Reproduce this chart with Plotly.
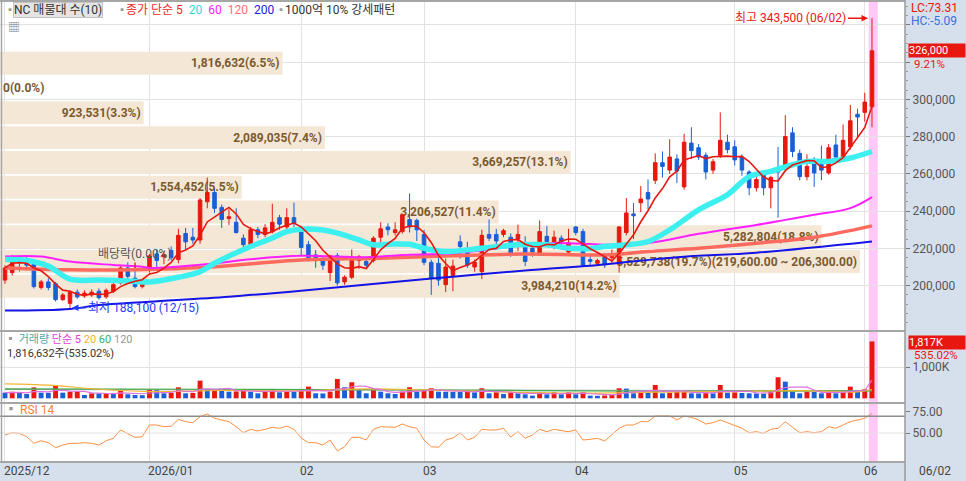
import plotly.graph_objects as go
import pandas as pd

# ---- data -------------------------------------------------------------
holidays = ["2025-12-25", "2025-12-31", "2026-01-01", "2026-02-16", "2026-02-17",
            "2026-02-18", "2026-03-02", "2026-05-01", "2026-05-05", "2026-05-25"]
dates = [d.strftime("%Y-%m-%d") for d in pd.bdate_range("2025-12-02", "2026-06-02")
         if d.strftime("%Y-%m-%d") not in holidays]

opens = [203000, 207000, 214500, 214000, 212000, 199000, 202000, 201000, 192500, 190500,
         196500, 194500, 195000, 197000, 194000, 197000, 201500, 209500, 204000, 199500,
         208500, 217000, 215500, 219000, 214000, 228000, 226000, 224500, 245000, 250000,
         242000, 236000, 234000, 225500, 222000, 230000, 227500, 229000, 236500, 231500, 236500,
         230000, 222000, 216500, 213500, 207000, 216000, 202000, 204500, 213500, 213000,
         213500, 226000, 231500, 228500, 229000, 235500, 235000,
         227500, 212500, 212000, 200500, 205500, 223500, 219000, 210000, 207500, 227500,
         227500, 227500, 226000, 225000, 221000, 220000, 217500, 226500, 220500, 225500, 218000,
         231500, 229000, 214000, 212000, 215500, 215000, 212000, 228500, 238500, 244500,
         250000, 256500, 266000, 262000, 268000, 253000, 276500, 274000, 270000, 262000, 270000, 277000,
         274500, 269000, 261000, 252500, 259500, 252500, 263000, 264000, 282000, 271000,
         258500, 267500, 265000, 260500, 275500, 269000, 274500, 292000,
         293000, 296000]
highs = [211000, 216500, 215800, 216000, 213500, 203000, 204000, 202000, 196000, 197500,
         198000, 197500, 198000, 198500, 198500, 201500, 210500, 212500, 209500, 203000,
         217000, 219500, 218500, 221000, 230500, 231000, 231000, 247000, 258000, 252000,
         243500, 241000, 241500, 227500, 231500, 231500, 233000, 244000, 238000, 241500, 244500,
         231000, 224000, 219200, 215500, 216500, 217500, 205500, 219500, 216500, 215500,
         226500, 234000, 233500, 234000, 238500, 249500, 236000,
         230000, 214000, 215500, 214500, 214000, 227000, 223500, 214000, 230000, 235500,
         230500, 230500, 228000, 232700, 226500, 222000, 235000, 232000, 229500, 227000, 230500,
         232000, 230500, 216000, 214500, 217500, 219500, 232000, 247000, 244300, 253500,
         257000, 271000, 272000, 278500, 270500, 281500, 285000, 276000, 271500, 268000, 293000, 281000,
         278000, 270500, 262000, 258500, 261500, 259000, 274500, 291500, 285000, 273000,
         270500, 269000, 275200, 276000, 281000, 286500, 297000, 295000,
         303500, 343500]
lows = [201000, 205500, 207600, 208500, 198500, 198000, 197500, 191500, 191800, 188100,
        193000, 193500, 194000, 192500, 193000, 196000, 200500, 202500, 198500, 198500,
        207000, 209500, 211500, 213500, 212000, 219500, 222500, 222500, 241500, 239000,
        231000, 232500, 228000, 219500, 221000, 225500, 226000, 228000, 230000, 228000, 231500,
        216500, 213000, 209600, 208500, 202500, 200000, 200500, 203500, 209000, 209500,
        212500, 222000, 227000, 227000, 228000, 228500, 224000,
        211000, 195000, 200000, 196500, 197000, 214500, 209500, 207500, 203500, 224000,
        221500, 226000, 215500, 218500, 210500, 215500, 216500, 221500, 219500, 221500, 216500,
        227000, 210000, 211000, 210500, 209500, 211500, 207000, 227000, 225000, 239500,
        241000, 254500, 258000, 260000, 255000, 251500, 268000, 267500, 257000, 260000, 268500, 271000,
        264500, 259000, 248500, 250500, 248500, 241500, 236500, 262500, 269000, 256500,
        256500, 253000, 256600, 259500, 266000, 267500, 273000, 279500,
        288000, 285000]
closes = [209500, 214500, 213000, 211000, 199500, 202000, 199000, 192500, 195000, 196500,
          194000, 196000, 196500, 193500, 197500, 200500, 209500, 205000, 199500, 201500,
          216000, 213500, 216500, 215000, 227000, 223500, 224500, 246000, 250000, 241500,
          235500, 237000, 228500, 222000, 230000, 227500, 231000, 234000, 233000, 236500, 233500,
          220500, 215000, 215000, 211000, 216000, 201500, 204500, 213500, 215500, 211000,
          225500, 230500, 230000, 230000, 238000, 231500, 230000,
          212500, 204000, 203000, 210000, 210500, 221000, 211000, 212500, 227000, 225500,
          224000, 229500, 217000, 227500, 213000, 218000, 229000, 223500, 226000, 223500, 223000,
          228500, 211000, 213000, 213500, 211500, 217000, 231500, 239000, 237500, 246500,
          246500, 266000, 264000, 269000, 261500, 277000, 272500, 269000, 261000, 266500, 278000, 273000,
          267500, 262000, 252500, 257000, 252500, 258000, 261000, 280000, 272000, 258500,
          264000, 260500, 262000, 274000, 269000, 278000, 288500, 290500,
          298500, 326000]
volumes = [180000, 210000, 180000, 140000, 350000, 180000, 175000, 405000, 180000, 210000,
           215000, 105000, 160000, 155000, 160000, 150000, 245000, 128000, 105000, 100000,
           267000, 260000, 160000, 170000, 352000, 160000, 170000, 565000, 267000, 270000,
           265000, 213000, 220000, 288000, 213000, 160000, 213000, 299000, 192000, 213000, 210000,
           299000, 373000, 160000, 155000, 213000, 619000, 352000, 512000, 267000, 160000,
           267000, 213000, 160000, 139000, 213000, 352000, 213000,
           267000, 320000, 213000, 210000, 205000, 200000, 235000, 192000, 320000, 160000,
           192000, 139000, 192000, 160000, 128000, 85000, 192000, 128000, 192000, 128000, 192000,
           128000, 192000, 85000, 80000, 90000, 107000, 320000, 310000, 160000, 180000,
           175000, 427000, 160000, 180000, 213000, 220000, 160000, 155000, 165000, 160000, 427000, 180000,
           190000, 170000, 160000, 155000, 150000, 213000, 672000, 533000, 213000, 160000,
           213000, 205000, 160000, 213000, 160000, 213000, 373000, 213000,
           286073, 1816632]
rsi14 = [47.6, 50.4, 49.6, 45.6, 37.7, 40.8, 38.5, 32.5, 35.7, 37.7,
         37.7, 38.5, 37.7, 35.7, 40.8, 43.7, 53.6, 49.6, 44.8, 45.6,
         59.5, 59.5, 57.5, 58.0, 66.3, 63.5, 62.3, 69.4, 72.6, 67.5,
         65.5, 63.5, 57.5, 50.4, 54.4, 52.4, 54.4, 56.8, 55.6, 58.3, 54.4,
         44.0, 38.5, 38.5, 35.7, 41.7, 28.6, 33.7, 44.9, 44.9, 41.7,
         54.4, 57.5, 57.5, 56.8, 60.7, 57.5, 55.6,
         41.7, 33.7, 33.0, 41.7, 44.0, 50.4, 41.7, 44.9, 54.4, 53.6,
         53.6, 55.6, 45.2, 51.6, 43.7, 47.6, 54.4, 51.6, 54.4, 52.8, 51.6,
         53.6, 41.7, 42.5, 43.7, 40.5, 47.6, 55.6, 59.5, 59.5, 63.5,
         63.5, 70.2, 70.2, 70.2, 65.5, 70.2, 68.6, 65.5, 60.7, 62.3, 65.5, 62.3,
         59.5, 55.6, 50.4, 51.6, 49.6, 54.4, 55.6, 63.5, 56.8, 50.4,
         51.6, 50.4, 51.6, 57.5, 55.6, 59.5, 63.5, 65.5,
         67.5, 73.3]

# moving averages (index into dates, value)
ma20_idx = [0, 3, 6, 9, 13, 17, 20, 24, 27, 29, 32, 34, 37, 39, 41, 44, 46, 49, 51, 53,
            56, 58, 61, 66, 71, 75, 78, 81, 83, 86, 89, 92, 96, 100, 103, 106, 109, 111, 114, 117, 120]
ma20_val = [214000, 213500, 210500, 203500, 203000, 202500, 202000, 204500, 207500, 212000,
            217600, 221000, 225600, 229000, 230300, 229900, 228200, 224600, 221900, 222200,
            222200, 220100, 218300, 220100, 221900, 221900, 220100, 220000, 221000, 221900,
            223700, 229900, 240700, 248800, 258500, 261300, 264900, 266700, 266700, 268500, 272000]
ma60_idx = [0, 5, 9, 15, 19, 20, 29, 34, 41, 50, 55, 62, 75, 83, 89, 96, 104, 108, 112, 117, 120]
ma60_val = [215600, 215600, 212900, 211100, 210200, 209500, 212000, 214200, 216000, 215300,
            216500, 217400, 222800, 222000, 222800, 227800, 232600, 235300, 238000, 241600, 247500]
ma120_idx = [0, 9, 18, 29, 41, 52, 62, 72, 83, 89, 96, 104, 112, 120]
ma120_val = [209500, 208500, 208500, 210200, 213800, 214700, 216000, 217000, 216500, 218300,
             220100, 222800, 226000, 232100]
ma200_idx = [0, 9, 13, 20, 31, 41, 52, 62, 72, 83, 93, 104, 120]
ma200_val = [186600, 187500, 189600, 191400, 194100, 197300, 201300, 204800, 208100, 211400,
             215300, 217700, 223700]

vma20_idx = [0, 6, 13, 20, 30, 41, 50, 58, 70, 80, 90, 100, 110, 118, 120]
vma20_val = [460000, 420000, 290000, 215000, 250000, 240000, 300000, 270000, 200000, 165000,
             200000, 215000, 245000, 205000, 280000]
vma60_idx = [0, 30, 60, 90, 120]
vma60_val = [300000, 290000, 265000, 225000, 240000]
vma120_idx = [0, 60, 120]
vma120_val = [280000, 270000, 245000]

# volume profile (매물대), 10 price bins
profile_edges = [193000, 206300, 219600, 232900, 246200, 259500, 272800, 286100, 299400, 312700, 326000]
profile_vol = [3984210, 5529738, 5282804, 3206527, 1554452, 3669257, 2089035, 923531, 0, 1816632]

month_labels = ["2025/12", "2026/01", "02", "03", "04", "05", "06"]
price_ticks = [200000, 220000, 240000, 260000, 280000, 300000, 320000, 340000]
# 320,000 and 340,000 sit under the price tag / HC text on the original
hidden_ticks = [320000, 340000]

# ---- styling ----------------------------------------------------------
W, H = 905, 462
FONT = "Roboto, Noto Sans CJK KR, sans-serif"
RED = "#e8170f"
BLUE = "#1a5fd6"
STRIP = "#d6e0ec"
GRID = "#e2e2e2"
BROWN = "#7a5a2e"


def py(y):
    return 1 - y / H


def note(text, x, y, color="#333", size=12, **kw):
    d = dict(text=text, x=x / W, y=py(y), xref="paper", yref="paper", xanchor="left",
             yanchor="middle", showarrow=False, font=dict(color=color, size=size, family=FONT))
    d.update(kw)
    return d


n = len(dates)
ma5 = pd.Series(closes).rolling(5, min_periods=1).mean()
vma5 = pd.Series(volumes).rolling(5, min_periods=1).mean()
vol_colors = [RED if k > 0 and volumes[k] > volumes[k - 1] else BLUE for k in range(n)]
month_first = [d for k, d in enumerate(dates) if k == 0 or d[:7] != dates[k - 1][:7]]

centers = [(a + b) / 2 for a, b in zip(profile_edges[:-1], profile_edges[1:])]
total = sum(profile_vol)
top = profile_vol.index(max(profile_vol))
labels = []
for k, v in enumerate(profile_vol):
    s = f"{v:,}({v / total * 100:.1f}%)"
    if k == top:
        s += f"({profile_edges[k + 1]:,.2f} ~ {profile_edges[k]:,.2f})"
    labels.append(f"<b>{s}</b>")

fig = go.Figure()

# volume profile on hidden linear x axis (drawn under the candles)
fig.add_trace(go.Bar(
    x=profile_vol, y=centers, orientation="h", width=12300,
    marker=dict(color="#f5e7d6", line=dict(width=0)),
    text=labels, textposition=["inside" if v else "outside" for v in profile_vol],
    insidetextanchor="end", constraintext="none", textangle=0,
    textfont=dict(color=BROWN, size=12, family=FONT), cliponaxis=False,
    xaxis="x", yaxis="y", hoverinfo="skip"))

# moving averages
fig.add_trace(go.Scatter(x=[dates[i] for i in ma200_idx], y=ma200_val, mode="lines",
                         line=dict(color="#1414e6", width=2, shape="spline"), xaxis="x2", yaxis="y"))
fig.add_trace(go.Scatter(x=[dates[i] for i in ma120_idx], y=ma120_val, mode="lines",
                         line=dict(color="#ff6a5e", width=3.5, shape="spline"), xaxis="x2", yaxis="y"))
fig.add_trace(go.Scatter(x=[dates[i] for i in ma60_idx], y=ma60_val, mode="lines",
                         line=dict(color="#ff1fff", width=2, shape="spline"), xaxis="x2", yaxis="y"))
fig.add_trace(go.Scatter(x=[dates[i] for i in ma20_idx], y=ma20_val, mode="lines",
                         line=dict(color="#3cf0f0", width=5.5, shape="spline"), xaxis="x2", yaxis="y"))

fig.add_trace(go.Candlestick(
    x=dates, open=opens, high=highs, low=lows, close=closes,
    increasing=dict(line=dict(color=RED, width=1), fillcolor=RED),
    decreasing=dict(line=dict(color=BLUE, width=1), fillcolor=BLUE),
    whiskerwidth=0, xaxis="x2", yaxis="y"))
fig.add_trace(go.Scatter(x=dates, y=ma5, mode="lines", line=dict(color=RED, width=1.6),
                         xaxis="x2", yaxis="y"))

# volume panel
fig.add_trace(go.Bar(x=dates, y=volumes, marker=dict(color=vol_colors, line=dict(width=0)),
                     width=0.68, xaxis="x3", yaxis="y2"))
fig.add_trace(go.Scatter(x=[dates[i] for i in vma120_idx], y=vma120_val, mode="lines",
                         line=dict(color="#999999", width=1), xaxis="x3", yaxis="y2"))
fig.add_trace(go.Scatter(x=[dates[i] for i in vma60_idx], y=vma60_val, mode="lines",
                         line=dict(color="#3fae4a", width=1.2, shape="spline"), xaxis="x3", yaxis="y2"))
fig.add_trace(go.Scatter(x=[dates[i] for i in vma20_idx], y=vma20_val, mode="lines",
                         line=dict(color="#f2b530", width=1.2, shape="spline"), xaxis="x3", yaxis="y2"))
fig.add_trace(go.Scatter(x=dates, y=vma5, mode="lines", line=dict(color="#e070e0", width=1.2),
                         xaxis="x3", yaxis="y2"))

# RSI panel
fig.add_trace(go.Scatter(x=dates, y=rsi14, mode="lines", line=dict(color="#ff9040", width=1),
                         xaxis="x4", yaxis="y3"))

xr = [-0.69, 124.57]
cat_axis = dict(type="category", categoryorder="array", categoryarray=dates, range=xr,
                tickvals=month_first, showticklabels=False, showgrid=True, gridcolor=GRID,
                gridwidth=1, zeroline=False, ticks="", rangeslider=dict(visible=False),
                domain=[0, 1])
tick_font = dict(color="#555", size=12, family=FONT)

fig.update_layout(
    width=966, height=481, showlegend=False,
    margin=dict(l=0, r=61, t=0, b=19, autoexpand=False),
    paper_bgcolor="white", plot_bgcolor="white",
    xaxis=dict(range=[0, 5819000], visible=False, domain=[0, 1], anchor="y", fixedrange=True),
    xaxis2=dict(cat_axis, overlaying="x", anchor="y"),
    xaxis3=dict(cat_axis, anchor="y2", matches="x2"),
    xaxis4=dict(cat_axis, anchor="y3", matches="x2"),
    yaxis=dict(domain=[py(330), 1], range=[176200, 353300], side="right", anchor="x",
               tickvals=price_ticks,
               ticktext=["" if v in hidden_ticks else f"{v:,}" for v in price_ticks],
               ticks="outside", ticklen=4, tickcolor="#777", tickfont=tick_font,
               showgrid=True, gridcolor=GRID, zeroline=False,
               minor=dict(dtick=5000, ticks="outside", ticklen=2, tickcolor="#999", showgrid=False)),
    yaxis2=dict(domain=[py(402), py(333)], range=[-118000, 2086000], side="right", anchor="x3",
                tickvals=[1000000], ticktext=["1,000K"], ticks="outside", ticklen=4,
                tickcolor="#777", tickfont=tick_font, showgrid=True, gridcolor=GRID, zeroline=False),
    yaxis3=dict(domain=[0, py(404)], range=[15.5, 84.5], side="right", anchor="x4",
                tickvals=[50, 75], ticktext=["50.00", "75.00"], ticks="outside", ticklen=4,
                tickcolor="#777", tickfont=tick_font, showgrid=False, zeroline=False),
)

shapes = [
    # axis strips
    dict(type="rect", xref="paper", yref="paper", x0=1, x1=966 / W, y0=-19 / H, y1=1,
         fillcolor=STRIP, line=dict(width=0), layer="below"),
    dict(type="rect", xref="paper", yref="paper", x0=0, x1=1, y0=-19 / H, y1=0,
         fillcolor=STRIP, line=dict(width=0), layer="below"),
    # today highlight
    dict(type="rect", xref="x2", yref="paper", x0=n - 1.8 + 0.35, x1=n - 1 + 0.8, y0=0, y1=1,
         fillcolor="#ffc8f6", line=dict(width=0), layer="below"),
    # RSI reference lines
    dict(type="line", xref="paper", yref="y3", x0=0, x1=1, y0=50, y1=50, line=dict(color=GRID, width=1)),
    dict(type="line", xref="paper", yref="y3", x0=0, x1=1, y0=70, y1=70, line=dict(color="#8c8c8c", width=1.5)),
]
# panel frames
for yy in [1, 331, 403, 462]:
    shapes.append(dict(type="line", xref="paper", yref="paper", x0=0, x1=1, y0=py(yy), y1=py(yy),
                       line=dict(color="#a6a6a6", width=2)))
shapes.append(dict(type="line", xref="paper", yref="paper", x0=1, x1=1, y0=-19 / H, y1=1,
                   line=dict(color="#9a9a9a", width=1.5)))
shapes.append(dict(type="line", xref="paper", yref="paper", x0=1.5 / W, x1=1.5 / W, y0=0, y1=1,
                   line=dict(color="#a6a6a6", width=1.5)))
fig.update_layout(shapes=shapes)

hi_k = highs.index(max(highs))
lo_k = lows.index(min(lows))
chg = (closes[-1] / closes[-2] - 1) * 100
vchg = (volumes[-1] / volumes[-2] - 1) * 100

ann = [
    note("▪", 3, 10, color="#999", size=10),
    note("NC 매물대 수(10)", 13, 10, color="#333", bgcolor="#e4e4e4", bordercolor="#c4c4c4", borderpad=0),
    note("▪", 115, 10, color="#999", size=10),
    note("<span style='color:#f0281e'>종가 단순 5</span>  <span style='color:#2fd8d8'>20</span>  "
         "<span style='color:#ff22ff'>60</span>  <span style='color:#ff7070'>120</span>  "
         "<span style='color:#2020e0'>200</span>", 124, 10),
    note("▪", 274, 10, color="#999", size=10),
    note("1000억 10% 강세패턴", 283, 10, color="#333"),
    note("▦", 6, 28, color="#888", size=12),
    note("▪ <span style='color:#4aa8a8'>거래량</span> <span style='color:#e040e0'>단순 5</span> "
         "<span style='color:#f0b030'>20</span> <span style='color:#3fae4a'>60</span> "
         "<span style='color:#999'>120</span>", 3, 339, color="#999", size=11),
    note(f"{volumes[-1]:,}주({vchg:.2f}%)", 5, 353, color="#333", size=11),
    note("▪ <span style='color:#ff8030'>RSI 14</span>", 3, 410, color="#999"),
    # right strip texts
    note("LC:73.31", 909, 8, color=RED, size=12),
    note("HC:-5.09", 909, 21, color="#3a70d8", size=12),
    note(f"{chg:.2f}%", 912, 64, color=RED, size=11.5),
    note(f"{volumes[-1] / 1000:,.0f}K", 908, 342, color="white", size=11, bgcolor=RED,
         borderpad=0, width=56, align="left"),
    note(f"{vchg:.2f}%", 912, 355, color=RED, size=11.5),
    note(dates[-1][5:7] + "/" + dates[-1][8:], 917, 471, color="#444", size=12),
    dict(text=f"{closes[-1]:,}", x=908 / W, y=closes[-1], xref="paper", yref="y",
         xanchor="left", yanchor="middle", showarrow=False, bgcolor=RED, borderpad=0,
         width=56, align="left", font=dict(color="white", size=11, family=FONT)),
    # markers in the price panel
    dict(text=f"최고 {highs[hi_k]:,} ({dates[hi_k][5:7]}/{dates[hi_k][8:]})", x=dates[hi_k], y=highs[hi_k],
         xref="x2", yref="y", showarrow=True, arrowhead=2, arrowsize=1, arrowwidth=1.3,
         arrowcolor=RED, ax=-24, ay=0, standoff=4, xanchor="right",
         font=dict(color=RED, size=12, family=FONT)),
    dict(text=f"최저 {lows[lo_k]:,} ({dates[lo_k][5:7]}/{dates[lo_k][8:]})", x=dates[lo_k], y=lows[lo_k],
         xref="x2", yref="y", showarrow=True, arrowhead=2, arrowsize=1, arrowwidth=1.3,
         arrowcolor="#1e3cff", ax=16, ay=0, standoff=2, xanchor="left",
         font=dict(color="#1e3cff", size=12, family=FONT)),
    dict(text="배당락(0.00%)", x=dates[18], y=209500, xref="x2", yref="y", showarrow=True,
         arrowhead=0, arrowwidth=1.3, arrowcolor=RED, ax=0, ay=-14,
         font=dict(color="#555", size=12, family=FONT)),
]
for d, t in zip(month_first, month_labels):
    ann.append(dict(text=t, x=d, y=py(471), xref="x4", yref="paper", xanchor="left",
                    yanchor="middle", xshift=-3, showarrow=False,
                    font=dict(color="#444", size=12, family=FONT)))
fig.update_layout(annotations=ann)

fig.write_html("out.html", config={"displayModeBar": False},
               post_script="document.body.style.margin='0';")
